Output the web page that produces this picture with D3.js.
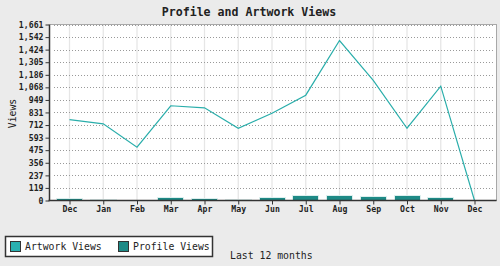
<!DOCTYPE html>
<html><head><meta charset="utf-8">
<script src="https://cdn.jsdelivr.net/npm/d3@7"></script>
<style>
html,body{margin:0;padding:0;background:#ebebeb;}
svg{display:block;}
text{font-family:"DejaVu Sans Mono","Liberation Mono",monospace;fill:#222;}
</style></head><body>
<svg id="c" width="500" height="266"></svg>
<script>
const months = ["Dec","Jan","Feb","Mar","Apr","May","Jun","Jul","Aug","Sep","Oct","Nov","Dec"];
const artworkViews = [764,724,503,894,875,682,824,994,1510,1133,682,1079,0];
const profileViews = [12,0,null,22,12,0,22,40,40,31,40,22,null];
const yTicks = [0,119,237,356,475,593,712,831,949,1068,1186,1305,1424,1542,1661];
const yMax = 1661;
const title = "Profile and Artwork Views";
const yLabel = "Views";
const xLabel = "Last 12 months";
const seriesNames = ["Artwork Views","Profile Views"];
const colors = {line:"#2aaeab", bar:"#1e8a86", barEdge:"#dcefee"};

const svg = d3.select("#c");
const L=49.5, R=496.5, T=24.5, B=200.5;
const idx = months.map((m,i)=>i);
const x = d3.scalePoint().domain(idx).range([69.5,474.5]);
const y = d3.scaleLinear().domain([0,yMax]).range([B,T]);

// plot background
svg.append("rect").attr("x",L).attr("y",T).attr("width",R-L).attr("height",B-T).attr("fill","#fff");

// vertical grid
svg.append("g").selectAll("line").data(idx).join("line")
  .attr("x1",d=>x(d)).attr("x2",d=>x(d)).attr("y1",T).attr("y2",B)
  .attr("stroke","#e6e6e6").attr("stroke-width",1.3);

// horizontal dotted grid
svg.append("g").selectAll("line").data(yTicks.slice(1)).join("line")
  .attr("x1",L+4).attr("x2",R-4).attr("y1",d=>Math.round(y(d))+0.5).attr("y2",d=>Math.round(y(d))+0.5)
  .attr("stroke","#999").attr("stroke-dasharray","1,2").attr("shape-rendering","crispEdges");

// border top/right
svg.append("path").attr("d",`M${L},${T}H${R}V${B}`).attr("fill","none").attr("stroke","#a8a8a8").attr("shape-rendering","crispEdges");

// bars
const bw = 26;
svg.append("g").selectAll("rect").data(idx.filter(i=>profileViews[i]!==null)).join("rect")
  .attr("x",i=>x(i)-bw/2).attr("width",bw)
  .attr("y",i=>y(profileViews[i])-1).attr("height",i=>B-y(profileViews[i])+1)
  .attr("fill",colors.bar).attr("stroke",colors.barEdge).attr("stroke-width",1)
  .attr("shape-rendering","crispEdges");

// line
svg.append("path").datum(idx).attr("fill","none").attr("stroke",colors.line).attr("stroke-width",1.2)
  .attr("d",d3.line().x(i=>x(i)).y(i=>y(artworkViews[i])));

// y axis
const yAxis = d3.axisLeft(y).tickValues(yTicks).tickSize(4).tickPadding(2)
  .tickFormat(d=>d3.format(",")(d));
const gy = svg.append("g").attr("transform",`translate(${L},0)`).call(yAxis);
gy.select(".domain").attr("stroke","#333").attr("stroke-width",1.5).attr("d",`M0,${T}V${B}`);
gy.selectAll(".tick line").attr("stroke","#333");
gy.selectAll(".tick text").attr("font-family","DejaVu Sans Mono").attr("font-size",8.2).attr("font-weight","bold").attr("fill","#222");

// x axis
const xAxis = d3.axisBottom(x).tickSize(4).tickPadding(2).tickFormat(i=>months[i]);
const gx = svg.append("g").attr("transform",`translate(0,${B})`).call(xAxis);
gx.select(".domain").attr("stroke","#333").attr("stroke-width",1.5).attr("d",`M${L-1},0H${R}`);
gx.selectAll(".tick line").attr("stroke","#333");
gx.selectAll(".tick text").attr("font-family","DejaVu Sans Mono").attr("font-size",8.2).attr("font-weight","bold").attr("fill","#222");

// title
svg.append("text").attr("x",249).attr("y",16).attr("text-anchor","middle")
  .attr("font-size",11.6).attr("font-weight","bold").text(title);

// y label
svg.append("text").attr("transform","translate(16,113.5) rotate(-90)").attr("text-anchor","middle")
  .attr("font-size",9.8).text(yLabel);

// x label
svg.append("text").attr("x",230).attr("y",259).attr("font-size",9.8).text(xLabel);

// legend
const lg = svg.append("g");
lg.append("rect").attr("x",5.5).attr("y",236.5).attr("width",207).attr("height",20)
  .attr("fill","#fff").attr("stroke","#333").attr("stroke-width",1.5);
const legX = [10.5,118.5];
const legC = [colors.line, colors.bar];
seriesNames.forEach((n,k)=>{
  lg.append("rect").attr("x",legX[k]).attr("y",241.5).attr("width",10).attr("height",10)
    .attr("fill",k===0?"#2ab0b0":colors.bar).attr("stroke","#333").attr("stroke-width",1);
  lg.append("text").attr("x",legX[k]+14.5).attr("y",250).attr("font-size",9.8).text(n);
});
</script></body></html>
